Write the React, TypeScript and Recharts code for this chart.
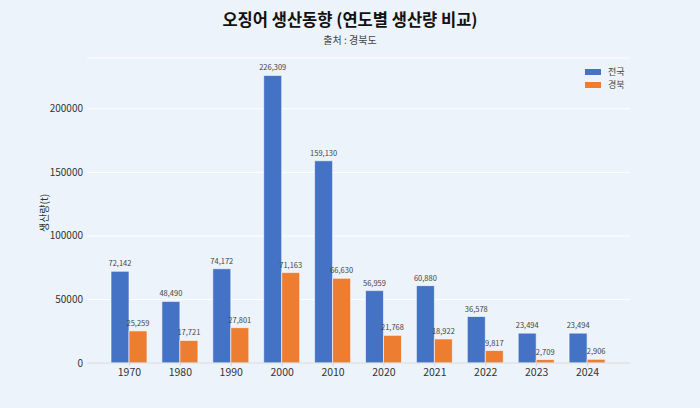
import React from 'react';
import { BarChart, Bar, XAxis, YAxis, CartesianGrid, LabelList } from 'recharts';

const years = ['1970', '1980', '1990', '2000', '2010', '2020', '2021', '2022', '2023', '2024'];
const national = [72142, 48490, 74172, 226309, 159130, 56959, 60880, 36578, 23494, 23494];
const gyeongbuk = [25259, 17721, 27801, 71163, 66630, 21768, 18922, 9817, 2709, 2906];
const yTicks = [0, 50000, 100000, 150000, 200000];
const seriesNames = ['전국', '경북'];
const colors = ['#4472c4', '#ed7d31'];

const data = years.map((y, i) => ({ year: y, national: national[i], gyeongbuk: gyeongbuk[i] }));

const FONT = '"Noto Sans CJK KR", "Noto Sans", sans-serif';
const fmt = (v: any) => Number(v).toLocaleString('en-US');

export default function App() {
  return (
    <div style={{ position: 'absolute', left: 0, top: 0, width: 700, height: 408, background: '#edf3fa', fontFamily: FONT }}>
      <BarChart
        width={700}
        height={408}
        data={data}
        margin={{ top: 58, right: 70, bottom: 15, left: 27 }}
        barGap={0}
        style={{ position: 'absolute', left: 0, top: 0 }}
      >
        <CartesianGrid vertical={false} stroke="#ffffff" strokeWidth={1} />
        <XAxis
          dataKey="year"
          height={30}
          padding={{ left: 17, right: 17 }}
          tickLine={{ stroke: '#cfd6de' }}
          tickSize={3}
          tickMargin={3}
          axisLine={{ stroke: '#cfd6de' }}
          tick={{ fontSize: 10.5, fill: '#333', fontFamily: FONT }}
        />
        <YAxis
          width={60}
          domain={[0, 240000]}
          ticks={yTicks}
          tickLine={false}
          axisLine={false}
          tickSize={0}
          tickMargin={4}
          tick={{ fontSize: 10, fill: '#333', fontFamily: FONT }}
        />
        <Bar dataKey="national" name={seriesNames[0]} fill={colors[0]} stroke="#ffffff" strokeWidth={0.6} barSize={18} isAnimationActive={false}>
          <LabelList dataKey="national" position="top" offset={5} formatter={fmt} style={{ fontSize: 7.5, fill: '#444', fontFamily: FONT }} />
        </Bar>
        <Bar dataKey="gyeongbuk" name={seriesNames[1]} fill={colors[1]} stroke="#ffffff" strokeWidth={0.6} barSize={18} isAnimationActive={false}>
          <LabelList dataKey="gyeongbuk" position="top" offset={5} formatter={fmt} style={{ fontSize: 7.5, fill: '#444', fontFamily: FONT }} />
        </Bar>
      </BarChart>
      <div style={{ position: 'absolute', left: 0, width: 700, top: 8, textAlign: 'center', fontSize: 16.5, fontWeight: 700, color: '#111', lineHeight: '22px' }}>
        오징어 생산동향 (연도별 생산량 비교)
      </div>
      <div style={{ position: 'absolute', left: 0, width: 700, top: 32, textAlign: 'center', fontSize: 10, color: '#444', lineHeight: '16px' }}>
        출처 : 경북도
      </div>
      <div style={{ position: 'absolute', left: 43, top: 213, transform: 'translate(-50%, -50%) rotate(-90deg)', fontSize: 10, color: '#333', whiteSpace: 'nowrap' }}>
        생산량(t)
      </div>
      <div style={{ position: 'absolute', left: 585, top: 65, fontSize: 9, color: '#444' }}>
        {seriesNames.map((n, i) => (
          <div key={n} style={{ display: 'flex', alignItems: 'center', height: 13 }}>
            <div style={{ width: 16, height: 6, background: colors[i], marginRight: 7 }} />
            <span>{n}</span>
          </div>
        ))}
      </div>
    </div>
  );
}
